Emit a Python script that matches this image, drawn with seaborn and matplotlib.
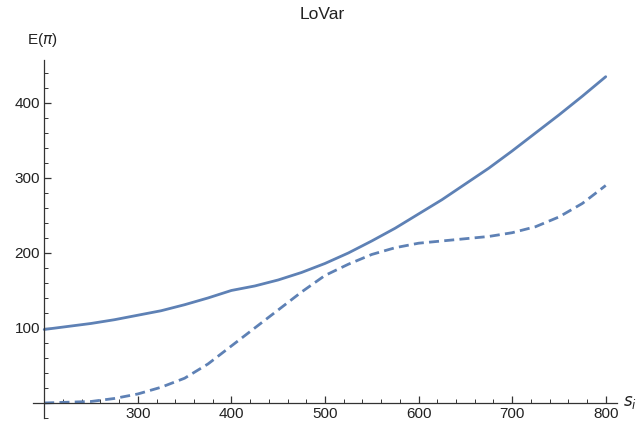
import numpy as np
import pandas as pd
import seaborn as sns
import matplotlib.pyplot as plt
from matplotlib.ticker import MultipleLocator

# values
s_i = [200, 225, 250, 275, 300, 325, 350, 375, 400, 425, 450, 475, 500,
       525, 550, 575, 600, 625, 650, 675, 700, 725, 750, 775, 800]
e_solid = [98, 102, 106, 111, 117, 123, 131, 140, 150, 156, 164, 174, 186,
           200, 216, 233, 252, 271, 292, 313, 336, 360, 384, 409, 435]
e_dashed = [0, 1, 2, 6, 12, 21, 33, 52, 76, 100, 124, 148, 170,
            185, 198, 207, 213, 216, 219, 222, 227, 235, 248, 266, 290]

df = pd.DataFrame({"s": s_i * 2,
                   "E": e_solid + e_dashed,
                   "kind": ["solid"] * len(s_i) + ["dashed"] * len(s_i)})

sns.set_style("white")
plt.rcParams['font.family'] = ['Liberation Sans', 'DejaVu Sans']
plt.rcParams['mathtext.fontset'] = 'dejavusans'

fig = plt.figure(figsize=(6.44, 4.24), dpi=100)
ax = fig.add_axes([0.0512, 0.0142, 0.9068, 0.8438])

blue = "#5E81B5"
sns.lineplot(data=df, x="s", y="E", style="kind", color=blue, linewidth=2.0,
             dashes={"solid": "", "dashed": (3.6, 1.9)}, legend=False, ax=ax)

ax.set_xlim(188, 812)
ax.set_ylim(-20, 457)

for side in ["top", "right"]:
    ax.spines[side].set_visible(False)
ax.spines["left"].set_position(("data", 200))
ax.spines["bottom"].set_position(("data", 0))
for side in ["left", "bottom"]:
    ax.spines[side].set_color("#333333")
    ax.spines[side].set_linewidth(0.9)

ax.xaxis.set_minor_locator(MultipleLocator(20))
ax.yaxis.set_minor_locator(MultipleLocator(20))
ax.set_xticks([300, 400, 500, 600, 700, 800])
ax.set_yticks([100, 200, 300, 400])
ax.xaxis.set_ticks_position("bottom")
ax.yaxis.set_ticks_position("left")
ax.tick_params(which="major", direction="in", length=5, width=0.9, color="#333333",
               labelsize=11, labelcolor="#222222", pad=3)
ax.tick_params(which="minor", direction="in", length=3, width=0.7, color="#333333")

ax.set_xlabel("")
ax.set_ylabel("")
fig.text(0.042, 0.905, r"E($\pi$)", fontsize=11, color="#222222", ha="left", va="center")
fig.text(0.978, 0.05, r"$s_i$", fontsize=12, color="#222222", ha="center", va="center")
fig.text(0.5, 0.965, "LoVar", fontsize=12.5, color="#222222", ha="center", va="center")

fig.savefig("out.png", dpi=100)
